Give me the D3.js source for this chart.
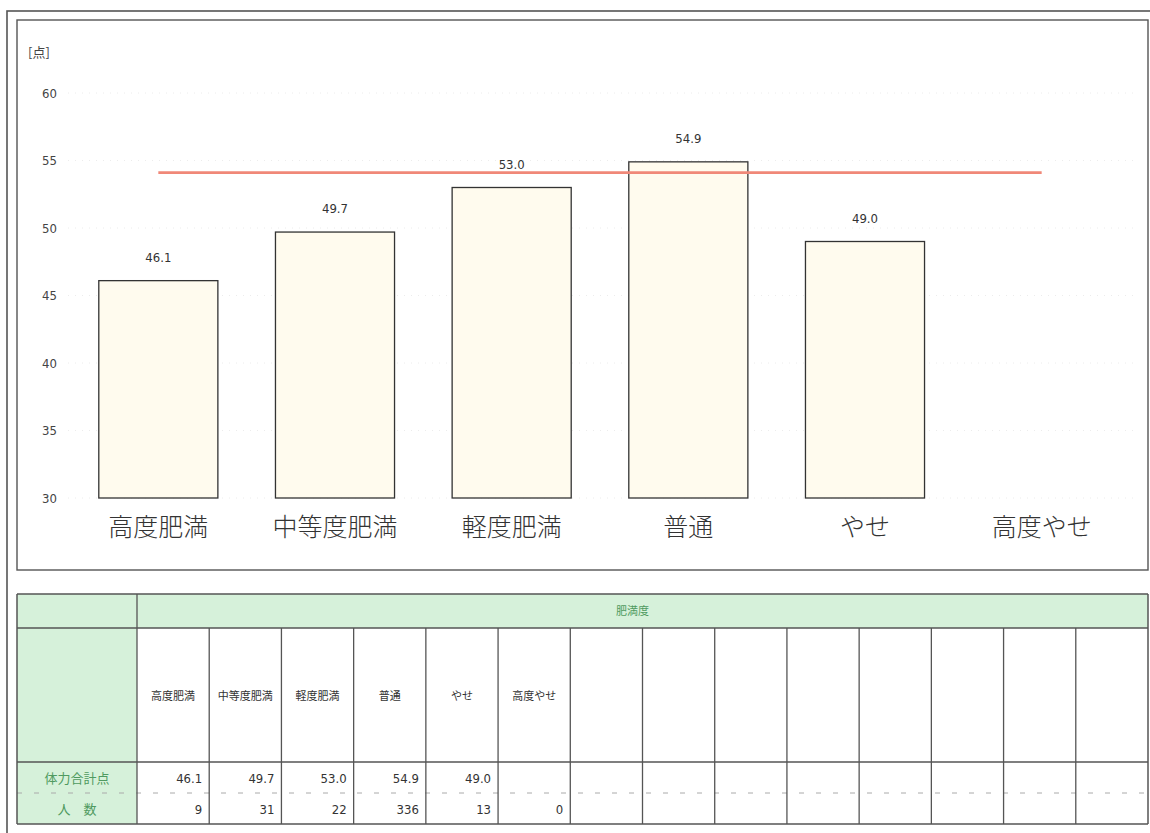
<!DOCTYPE html>
<html>
<head>
<meta charset="utf-8">
<script src="https://cdn.jsdelivr.net/npm/d3@7"></script>
<style>
  html, body { margin: 0; padding: 0; background: #fff; }
  svg { display: block; }
</style>
</head>
<body>
<svg id="chart" width="1150" height="833"></svg>
<script>
// Fitness total score by obesity category
const categories = ['高度肥満', '中等度肥満', '軽度肥満', '普通', 'やせ', '高度やせ'];
const scores = [46.1, 49.7, 53.0, 54.9, 49.0, null];
const counts = [9, 31, 22, 336, 13, 0];
const referenceScore = 54.1;
const yTicks = [30, 35, 40, 45, 50, 55, 60];
const unitLabel = '[点]';
const tableHeader = '肥満度';
const rowLabels = ['体力合計点', '人　数'];
const tableColumnCount = 14;

const svg = d3.select('#chart');
const fontCJK = '"Noto Sans CJK JP", "Noto Sans", sans-serif';
const fontNum = '"Liberation Sans Narrow", "DejaVu Sans Condensed", "Liberation Sans", sans-serif';

// Outer frame and chart box
svg.append('rect').attr('x', 7).attr('y', 11).attr('width', 1160).attr('height', 840)
  .attr('fill', 'none').attr('stroke', '#555').attr('stroke-width', 1.6);
svg.append('rect').attr('x', 17).attr('y', 20).attr('width', 1131).attr('height', 550)
  .attr('fill', 'none').attr('stroke', '#555').attr('stroke-width', 1.4);

// Scales
const x = d3.scaleBand().domain(categories).range([70, 1130]).paddingInner(0.326).paddingOuter(0.163);
const y = d3.scaleLinear().domain([30, 60]).range([498, 93]);

// Very faint dotted gridlines
svg.append('g').selectAll('line').data(yTicks).join('line')
  .attr('x1', 68).attr('x2', 1135)
  .attr('y1', d => y(d)).attr('y2', d => y(d))
  .attr('stroke', '#ececec').attr('stroke-width', 1).attr('stroke-dasharray', '1,6');

// Y axis labels
const yAxis = d3.axisLeft(y).tickValues(yTicks).tickSize(0).tickPadding(0);
const yg = svg.append('g').attr('transform', 'translate(57,0)').call(yAxis);
yg.select('.domain').remove();
yg.selectAll('text').attr('font-family', fontNum).attr('font-size', 13).attr('fill', '#444');

svg.append('text').attr('x', 28).attr('y', 57).text(unitLabel)
  .attr('font-family', fontCJK).attr('font-size', 13).attr('fill', '#444');

// Bars
const barData = categories.map((c, i) => ({ c, v: scores[i] })).filter(d => d.v != null);
svg.append('g').selectAll('rect').data(barData).join('rect')
  .attr('x', d => x(d.c)).attr('width', x.bandwidth())
  .attr('y', d => y(d.v)).attr('height', d => y(30) - y(d.v))
  .attr('fill', '#fffbee').attr('stroke', '#333').attr('stroke-width', 1.3);

// Value labels
svg.append('g').selectAll('text').data(barData).join('text')
  .attr('x', d => x(d.c) + x.bandwidth() / 2)
  .attr('y', d => y(d.v) - 19)
  .attr('text-anchor', 'middle')
  .attr('font-family', fontNum).attr('font-size', 13).attr('fill', '#333')
  .text(d => d.v.toFixed(1));

// Reference line
svg.append('line')
  .attr('x1', x(categories[0]) + x.bandwidth() / 2)
  .attr('x2', x(categories[categories.length - 1]) + x.bandwidth() / 2)
  .attr('y1', y(referenceScore)).attr('y2', y(referenceScore))
  .attr('stroke', '#f08878').attr('stroke-width', 2.6);

// Category labels
svg.append('g').selectAll('text').data(categories).join('text')
  .attr('x', d => x(d) + x.bandwidth() / 2)
  .attr('y', 536)
  .attr('text-anchor', 'middle')
  .attr('font-family', fontCJK).attr('font-size', 25).attr('font-weight', 300).attr('fill', '#333')
  .text(d => d);

// Data table
const tLeft = 17, tFirst = 137, tRight = 1148;
const rowY = [594, 628, 762, 793, 824];
const green = '#d6f1da';
const greenText = '#4f9a60';
const border = '#555';
const colX = d3.scaleLinear().domain([0, tableColumnCount]).range([tFirst, tRight]);
const table = svg.append('g');

table.append('rect').attr('x', tLeft).attr('y', rowY[0]).attr('width', tRight - tLeft).attr('height', rowY[1] - rowY[0]).attr('fill', green);
table.append('rect').attr('x', tLeft).attr('y', rowY[1]).attr('width', tFirst - tLeft).attr('height', rowY[4] - rowY[1]).attr('fill', green);

// Horizontal rules
[0, 1, 2, 4].forEach(i => {
  table.append('line').attr('x1', tLeft).attr('x2', tRight).attr('y1', rowY[i]).attr('y2', rowY[i])
    .attr('stroke', border).attr('stroke-width', 1.5);
});
table.append('line').attr('x1', tLeft).attr('x2', tRight).attr('y1', rowY[3]).attr('y2', rowY[3])
  .attr('stroke', '#aaa').attr('stroke-width', 1).attr('stroke-dasharray', '5,12');

// Vertical rules
table.append('line').attr('x1', tLeft).attr('x2', tLeft).attr('y1', rowY[0]).attr('y2', rowY[4]).attr('stroke', border).attr('stroke-width', 1.5);
table.append('line').attr('x1', tRight).attr('x2', tRight).attr('y1', rowY[0]).attr('y2', rowY[4]).attr('stroke', border).attr('stroke-width', 1.5);
table.append('line').attr('x1', tFirst).attr('x2', tFirst).attr('y1', rowY[0]).attr('y2', rowY[4]).attr('stroke', border).attr('stroke-width', 1.3);
table.selectAll('.col').data(d3.range(1, tableColumnCount)).join('line').attr('class', 'col')
  .attr('x1', d => colX(d)).attr('x2', d => colX(d))
  .attr('y1', rowY[1]).attr('y2', rowY[4])
  .attr('stroke', border).attr('stroke-width', 1.3);

// Header text
table.append('text').attr('x', (tFirst + tRight) / 2 - 10).attr('y', rowY[0] + 21)
  .attr('text-anchor', 'middle').attr('font-family', fontCJK).attr('font-size', 11).attr('fill', greenText)
  .text(tableHeader);

// Column labels
table.selectAll('.cat').data(categories).join('text').attr('class', 'cat')
  .attr('x', (d, i) => colX(i + 0.5)).attr('y', (rowY[1] + rowY[2]) / 2 + 5)
  .attr('text-anchor', 'middle').attr('font-family', fontCJK).attr('font-size', 11).attr('fill', '#333')
  .text(d => d);

// Row labels
table.selectAll('.rl').data(rowLabels).join('text').attr('class', 'rl')
  .attr('x', (tLeft + tFirst) / 2).attr('y', (d, i) => (rowY[2 + i] + rowY[3 + i]) / 2 + 5)
  .attr('text-anchor', 'middle').attr('font-family', fontCJK).attr('font-size', 13).attr('fill', greenText)
  .text(d => d);

// Score row
table.selectAll('.sc').data(scores).join('text').attr('class', 'sc')
  .attr('x', (d, i) => colX(i + 1) - 7).attr('y', (rowY[2] + rowY[3]) / 2 + 5)
  .attr('text-anchor', 'end').attr('font-family', fontNum).attr('font-size', 13).attr('fill', '#333')
  .text(d => d == null ? '' : d.toFixed(1));

// Count row
table.selectAll('.ct').data(counts).join('text').attr('class', 'ct')
  .attr('x', (d, i) => colX(i + 1) - 7).attr('y', (rowY[3] + rowY[4]) / 2 + 5)
  .attr('text-anchor', 'end').attr('font-family', fontNum).attr('font-size', 13).attr('fill', '#333')
  .text(d => d);
</script>
</body>
</html>
